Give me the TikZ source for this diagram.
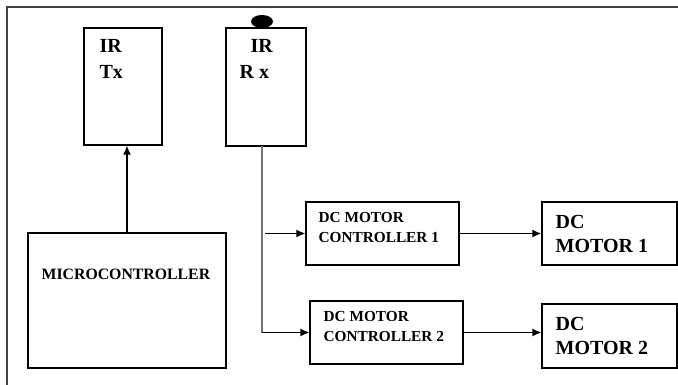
\documentclass[tikz,border=0pt]{standalone}
\usepackage{fontspec}
\setmainfont{Liberation Serif}
\usetikzlibrary{arrows.meta}

\begin{document}
\begin{tikzpicture}[x=1pt,y=-1pt,line width=1.3pt,>={Latex[length=9pt,width=8pt]},
  blk/.style={draw,inner sep=0pt},
  lbl/.style 2 args={anchor=base west,inner sep=0pt,align=left,font=\bfseries\fontsize{#1}{#2}\selectfont}]
  \useasboundingbox (0,0) rectangle (678,385);
  % frame
  \draw[black!75,line width=1.5pt] (7,385)--(7,7)--(678,7);
  % IR transmitter / receiver
  \node[blk,minimum width=78pt,minimum height=117pt] (tx) at (123,86.5){};
  \node[blk,minimum width=80pt,minimum height=118pt] (rx) at (266,87){};
  \fill (262,21.5) ellipse(11pt and 6.5pt);
  % (base = last line)
  \node[lbl={20}{26}] (txt) at (99,79){IR\\Tx};
  \node[lbl={20}{26}] (rxt) at (239,79){\hspace*{11pt}IR\\R x};
  % microcontroller
  \node[blk,minimum width=198pt,minimum height=135pt] (micro) at (127,300.5){};
  \node[lbl={15.8}{19}] (microt) at (41,279){MICROCONTROLLER};
  % motor controllers
  \node[blk,minimum width=153pt,minimum height=63pt] (ctrl1) at (382.5,233.5){};
  \node[blk,minimum width=153pt,minimum height=63pt] (ctrl2) at (386.5,332.5){};
  \node[lbl={15.3}{20}] (ctrl1t) at (318,242){DC MOTOR\\CONTROLLER 1};
  \node[lbl={15.3}{20}] (ctrl2t) at (323,341){DC MOTOR\\CONTROLLER 2};
  % motors
  \node[blk,minimum width=135pt,minimum height=63pt] (mot1) at (609.5,233.5){};
  \node[blk,minimum width=135pt,minimum height=64pt] (mot2) at (609.5,336){};
  \node[lbl={20}{24}] (mot1t) at (555,252){DC\\MOTOR 1};
  \node[lbl={20}{24}] (mot2t) at (555,354){DC\\MOTOR 2};
  % connections
  \draw[->] (micro.north)--(micro.north |- tx.south);
  \coordinate (bus) at (262,146);
  \draw[black!55] (bus)--(bus |- ctrl2.west);
  \draw[->] (bus |- ctrl2.west)--(ctrl2.west);
  \draw[->] ([xshift=3pt]bus |- ctrl1.west)--(ctrl1.west);
  \foreach \i in {1,2} \draw[->] (ctrl\i.east)--(ctrl\i.east -| mot\i.west);
\end{tikzpicture}
\end{document}
